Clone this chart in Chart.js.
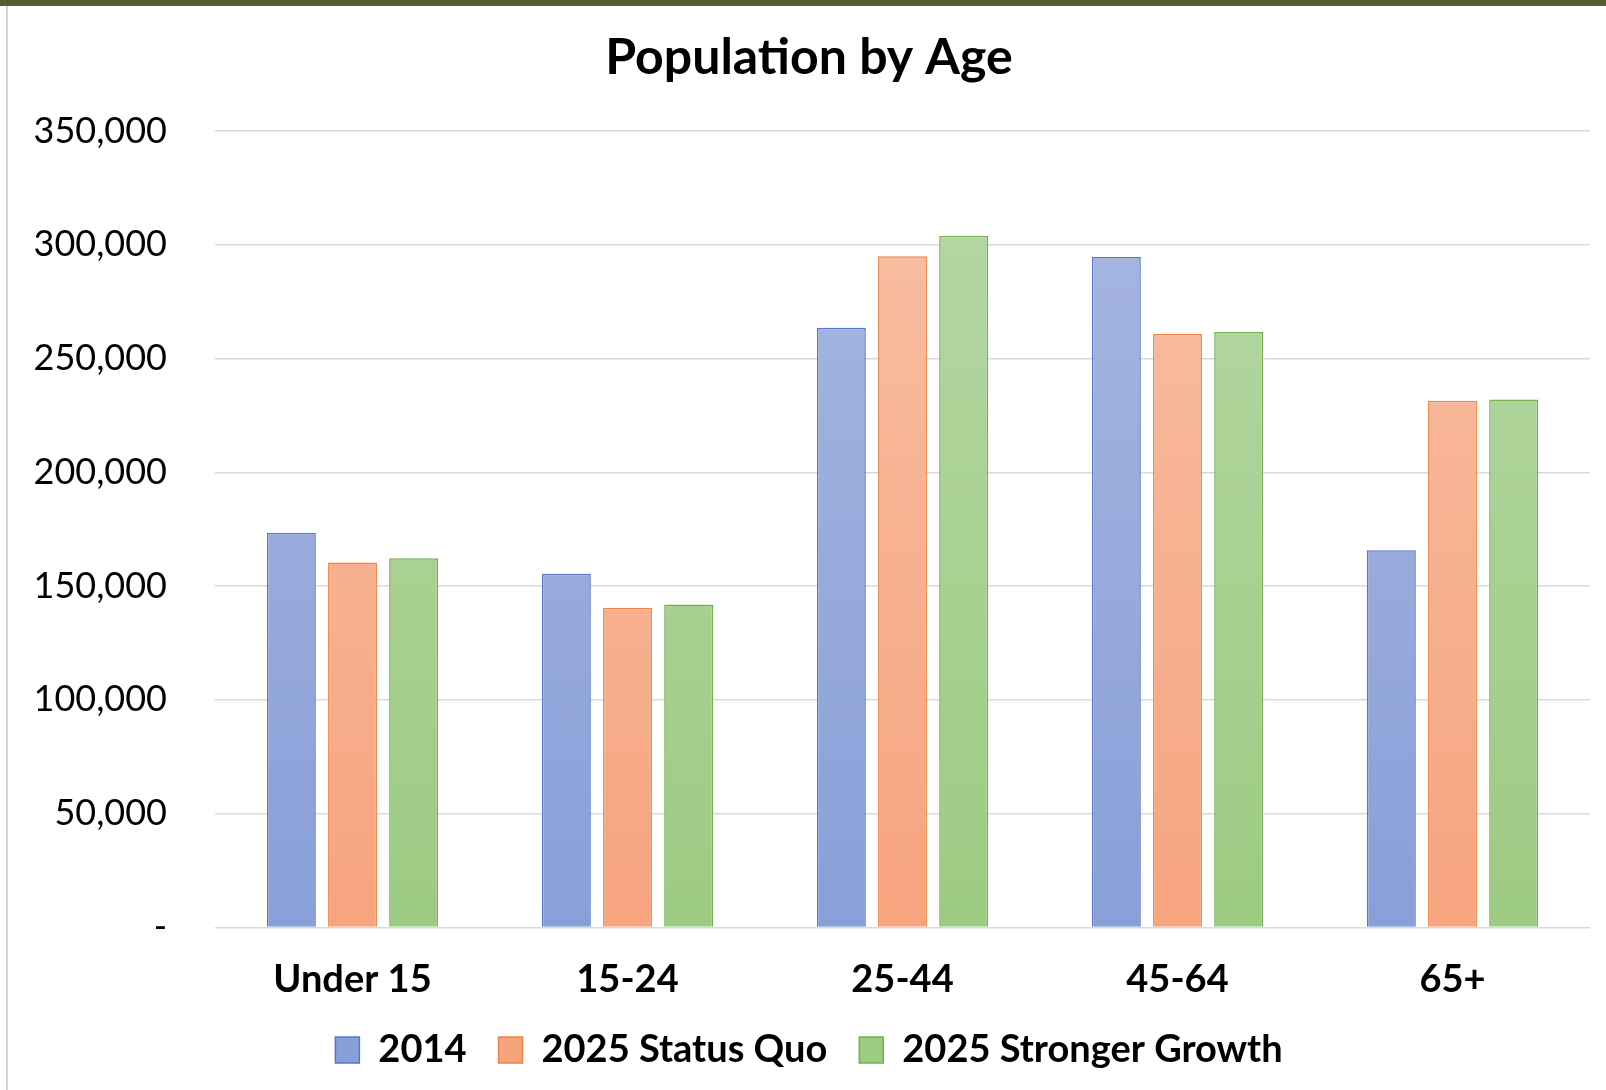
<!DOCTYPE html>
<html>
<head>
<meta charset="utf-8">
<script src="https://cdn.jsdelivr.net/npm/chart.js@4"></script>
<style>
  html, body { margin: 0; padding: 0; background: #fff; }
  body { width: 1606px; height: 1090px; overflow: hidden; position: relative; }
  .topbar { position: absolute; left: 0; top: 0; width: 1606px; height: 6px; background: #545f2c; }
  .leftline { position: absolute; left: 6px; top: 6px; width: 2px; height: 1084px; background: #d4d4d4; }
  .wrap { position: absolute; left: 8px; top: 6px; width: 1598px; height: 1084px; }
</style>
</head>
<body>
<div class="topbar"></div>
<div class="leftline"></div>
<div class="wrap"><canvas id="chart"></canvas></div>
<script>
const categories = ['Under 15', '15-24', '25-44', '45-64', '65+'];
const pop2014 = [173400, 155400, 263500, 294600, 165800];
const statusQuo2025 = [160400, 140500, 295000, 260800, 231500];
const strongerGrowth2025 = [162200, 141900, 304000, 261700, 232000];
const yTicks = [0, 50000, 100000, 150000, 200000, 250000, 300000, 350000];

const gradient = (top, bottom) => (context) => {
  const { ctx, chartArea } = context.chart;
  if (!chartArea) return top;
  const g = ctx.createLinearGradient(0, chartArea.top, 0, chartArea.bottom);
  g.addColorStop(0, top);
  g.addColorStop(1, bottom);
  return g;
};

const font = 'Lato, "Open Sans", sans-serif';

new Chart(document.getElementById('chart'), {
  type: 'bar',
  data: {
    labels: categories,
    datasets: [
      {
        label: '2014',
        data: pop2014,
        backgroundColor: gradient('#aab8e1', '#889fd8'),
        borderColor: '#5579c8',
        borderWidth: 1.5,
      },
      {
        label: '2025 Status Quo',
        data: statusQuo2025,
        backgroundColor: gradient('#f8c0a6', '#f6a47e'),
        borderColor: '#ee8543',
        borderWidth: 1.5,
      },
      {
        label: '2025 Stronger Growth',
        data: strongerGrowth2025,
        backgroundColor: gradient('#b7d7a6', '#9ccb82'),
        borderColor: '#74b04f',
        borderWidth: 1.5,
      },
    ],
  },
  options: {
    responsive: true,
    maintainAspectRatio: false,
    animation: false,
    datasets: {
      bar: { barPercentage: 0.8, categoryPercentage: 0.667 },
    },
    layout: { padding: { left: 20, right: 16, top: 0, bottom: 11 } },
    plugins: {
      title: {
        display: true,
        text: 'Population by Age',
        color: '#000',
        font: { family: font, size: 50, weight: 'bold' },
        padding: { top: 22, bottom: 43 },
      },
      legend: {
        position: 'bottom',
        labels: {
          color: '#000',
          font: { family: font, size: 38, weight: 'bold' },
          boxWidth: 24,
          boxHeight: 26,
          padding: 32,
        },
      },
      tooltip: { enabled: false },
    },
    scales: {
      x: {
        grid: { display: false },
        border: { display: false },
        // labels may hang into the legend's empty top padding
        afterFit: (axis) => { axis.height -= 26; },
        ticks: {
          color: '#000',
          font: { family: font, size: 38, weight: 'bold' },
          padding: 22,
        },
      },
      y: {
        min: 0,
        max: 350000,
        afterBuildTicks: (axis) => { axis.ticks = yTicks.map((v) => ({ value: v })); },
        afterFit: (axis) => { axis.width = 187; },
        grid: { color: '#d9d9d9', lineWidth: 1.5, drawTicks: false },
        border: { display: false },
        ticks: {
          color: '#000',
          font: { family: font, size: 36 },
          padding: 48,
          callback: (v) => (v === 0 ? '-' : v.toLocaleString('en-US')),
        },
      },
    },
  },
});
</script>
</body>
</html>
